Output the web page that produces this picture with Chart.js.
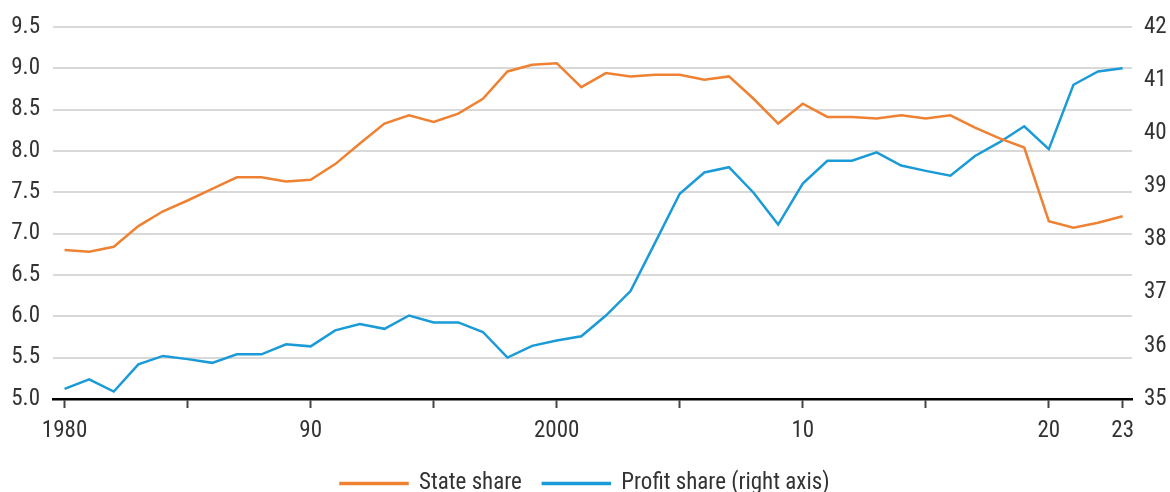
<!DOCTYPE html>
<html>
<head>
<meta charset="utf-8">
<script src="https://cdn.jsdelivr.net/npm/chart.js@4/dist/chart.umd.min.js"></script>
<style>
  html, body { margin: 0; padding: 0; background: #fff; }
  #wrap { width: 1170px; height: 492px; }
</style>
</head>
<body>
<div id="wrap"><canvas id="chart"></canvas></div>
<script>
const years = [];
for (let y = 1980; y <= 2023; y++) years.push(y);

const stateShare = [
  6.80, 6.78, 6.84, 7.09, 7.27, 7.40, 7.54, 7.68, 7.68, 7.63,
  7.65, 7.84, 8.09, 8.33, 8.43, 8.35, 8.45, 8.63, 8.96, 9.04,
  9.06, 8.77, 8.94, 8.90, 8.92, 8.92, 8.86, 8.90, 8.63, 8.33,
  8.57, 8.41, 8.41, 8.39, 8.43, 8.39, 8.43, 8.28, 8.15, 8.04,
  7.15, 7.07, 7.13, 7.21
];

const profitShare = [
  35.19, 35.37, 35.14, 35.65, 35.81, 35.75, 35.68, 35.84, 35.84, 36.03,
  35.99, 36.29, 36.41, 36.32, 36.57, 36.44, 36.44, 36.26, 35.78, 36.00,
  36.10, 36.18, 36.57, 37.03, 37.94, 38.86, 39.26, 39.36, 38.88, 38.28,
  39.05, 39.48, 39.48, 39.64, 39.39, 39.29, 39.20, 39.57, 39.83, 40.13,
  39.70, 40.91, 41.16, 41.22
];

const xTicks = [1980, 1985, 1990, 1995, 2000, 2005, 2010, 2015, 2020, 2023];
const xTickLabels = { 1980: '1980', 1990: '90', 2000: '2000', 2010: '10', 2020: '20', 2023: '23' };

const orange = '#EE8232';
const blue = '#1A9BD7';
const textColor = '#333333';
const fontFamily = '"Liberation Sans Narrow", "Roboto Condensed", Roboto, sans-serif';

Chart.defaults.font.family = fontFamily;
Chart.defaults.font.size = 23;
Chart.defaults.color = textColor;

document.addEventListener("DOMContentLoaded", e => {
  const data = {
    datasets: [{
      label: 'State share',
      data: years.map((y, i) => ({ x: y, y: stateShare[i] })),
      borderColor: orange,
      backgroundColor: orange,
      borderWidth: 2.5,
      pointRadius: 0,
      yAxisID: 'y'
    }, {
      label: 'Profit share (right axis)',
      data: years.map((y, i) => ({ x: y, y: profitShare[i] })),
      borderColor: blue,
      backgroundColor: blue,
      borderWidth: 2.5,
      pointRadius: 0,
      yAxisID: 'y2'
    }]
  };

  const config = {
    type: 'line',
    data: data,
    options: {
      responsive: true,
      maintainAspectRatio: false,
      animation: false,
      layout: { padding: { top: 25, bottom: -13 } },
      plugins: {
        legend: {
          position: 'bottom',
          labels: {
            boxWidth: 67,
            boxHeight: 1,
            padding: 21,
            color: textColor,
            font: { size: 23 }
          }
        },
        tooltip: { enabled: false }
      },
      scales: {
        x: {
          type: 'linear',
          min: 1979.53,
          max: 2023.38,
          afterBuildTicks: scale => {
            scale.ticks = xTicks.map(v => ({ value: v }));
          },
          afterFit: scale => { scale.height = 52; },
          ticks: {
            autoSkip: false,
            maxRotation: 0,
            padding: 9,
            callback: v => xTickLabels[v] || ''
          },
          grid: {
            drawOnChartArea: false,
            drawTicks: true,
            tickLength: 9,
            tickWidth: 2,
            tickColor: '#444'
          },
          border: { display: true, color: '#000', width: 2.5 }
        },
        y: {
          position: 'left',
          min: 5,
          max: 9.5,
          afterFit: scale => { scale.width = 53; },
          ticks: {
            stepSize: 0.5,
            padding: 13,
            callback: v => v.toFixed(1)
          },
          grid: {
            color: '#d9d9d9',
            lineWidth: 2,
            drawTicks: false
          },
          border: { display: false }
        },
        y2: {
          position: 'right',
          min: 35,
          max: 42,
          afterFit: scale => { scale.width = 38; },
          ticks: {
            stepSize: 1,
            padding: 12
          },
          grid: { drawOnChartArea: false, drawTicks: false },
          border: { display: false }
        }
      }
    }
  };

  const myChart = new Chart(document.getElementById('chart'), config);
});
</script>
</body>
</html>
